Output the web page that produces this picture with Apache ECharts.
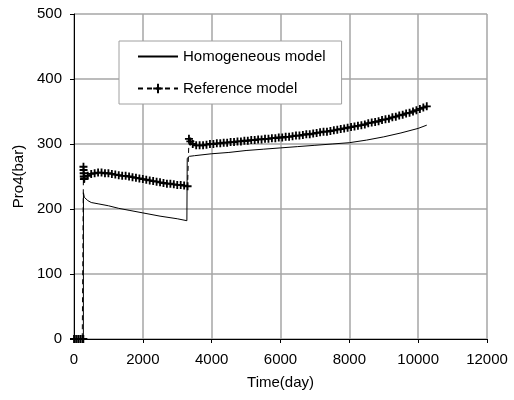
<!DOCTYPE html>
<html>
<head>
<meta charset="utf-8">
<script src="https://cdn.jsdelivr.net/npm/echarts@6/dist/echarts.min.js"></script>
<style>html,body{margin:0;padding:0;background:#fff;}#c{width:514px;height:400px;}</style>
</head>
<body>
<div id="c"></div>
<script>
var xTicks = [0, 2000, 4000, 6000, 8000, 10000, 12000];
var yTicks = [0, 100, 200, 300, 400, 500];

var homTime = [0, 100, 200, 272, 275, 300, 400, 500, 700, 1000, 1300, 1600, 2000, 2500, 3000, 3280, 3290, 3350, 3500, 4000, 4500, 5000, 5500, 6000, 6500, 7000, 7500, 8000, 8500, 9000, 9500, 10000, 10250];
var homVal  = [0, 0, 0, 0, 225, 218, 213, 210, 208, 205, 201, 198, 194, 189, 185, 182, 278, 281, 282, 285, 287, 290, 292, 294, 296, 298, 300, 302, 306, 311, 317, 324, 329];

var refTime = [0, 60, 120, 180, 240, 272, 275, 278, 281, 284, 288, 300, 400, 500, 600, 700, 800, 900, 1000, 1100, 1200, 1300, 1400, 1500, 1600, 1700, 1800, 1900, 2000, 2100, 2200, 2300, 2400, 2500, 2600, 2700, 2800, 2900, 3000, 3100, 3200, 3300,
  3340, 3380, 3450, 3550, 3650, 3750, 3850, 3950, 4050, 4150, 4250, 4350, 4450, 4550, 4650, 4750, 4850, 4950, 5050, 5150, 5250, 5350, 5450, 5550, 5650, 5750, 5850, 5950, 6050, 6150, 6250, 6350, 6450, 6550, 6650, 6750, 6850, 6950, 7050, 7150, 7250, 7350, 7450, 7550, 7650, 7750, 7850, 7950, 8050, 8150, 8250, 8350, 8450, 8550, 8650, 8750, 8850, 8950, 9050, 9150, 9250, 9350, 9450, 9550, 9650, 9750, 9850, 9950, 10050, 10150, 10250];
var refVal  = [0, 0, 0, 0, 0, 0, 265, 260, 255, 250, 246, 247, 251, 254, 255, 256, 256, 255, 255, 254, 253, 252, 251, 251, 250, 249, 248, 247, 246, 245, 244, 243, 242, 241, 240, 239, 239, 238, 237, 237, 236, 235,
  308, 304, 300, 298, 298, 298, 299, 300, 300, 301, 301, 302, 302, 303, 303, 304, 304, 305, 305, 306, 306, 307, 307, 308, 308, 309, 309, 310, 310, 311, 311, 312, 313, 313, 314, 315, 315, 316, 317, 318, 319, 319, 320, 321, 322, 323, 324, 325, 326, 327, 328, 329, 330, 332, 333, 334, 335, 337, 338, 339, 341, 342, 344, 345, 347, 348, 350, 352, 354, 356, 358];

function pairs(t, v) { return t.map(function (x, i) { return [x, v[i]]; }); }

var chart = echarts.init(document.getElementById('c'), null, { renderer: 'canvas' });
var font = 'Liberation Sans, Arial, sans-serif';
chart.setOption({
  animation: false,
  backgroundColor: '#fff',
  textStyle: { fontFamily: font },
  grid: { left: 74, right: 27, top: 14, bottom: 61, containLabel: false },
  legend: {
    orient: 'vertical',
    left: 119, top: 41,
    padding: [8, 16, 8, 18],
    itemGap: 17,
    itemWidth: 40, itemHeight: 12,
    backgroundColor: '#fff',
    borderColor: '#a0a0a0', borderWidth: 1,
    textStyle: { fontFamily: font, fontSize: 15, color: '#000' },
    data: [
      { name: 'Homogeneous model', itemStyle: { opacity: 0 } },
      { name: 'Reference model' }
    ]
  },
  xAxis: {
    type: 'value', min: 0, max: 12000, interval: 2000,
    name: 'Time(day)', nameLocation: 'middle', nameGap: 36,
    nameTextStyle: { fontFamily: font, fontSize: 15, color: '#000' },
    axisLine: { onZero: false, lineStyle: { color: '#000', width: 1 } },
    axisTick: { show: true, length: 4, lineStyle: { color: '#000' } },
    axisLabel: { fontFamily: font, fontSize: 15, color: '#000', margin: 13, formatter: function (v) { return String(v); } },
    splitLine: { show: true, lineStyle: { color: '#a6a6a6', width: 1.5 } }
  },
  yAxis: {
    type: 'value', min: 0, max: 500, interval: 100,
    name: 'Pro4(bar)', nameLocation: 'middle', nameGap: 47, nameRotate: 90,
    nameTextStyle: { fontFamily: font, fontSize: 15, color: '#000' },
    axisLine: { show: true, lineStyle: { color: '#000', width: 1 } },
    axisTick: { show: true, length: 4, lineStyle: { color: '#000' } },
    axisLabel: { fontFamily: font, fontSize: 15, color: '#000', margin: 12, formatter: function (v) { return String(v); } },
    splitLine: { show: true, lineStyle: { color: '#a6a6a6', width: 1.5 } }
  },
  series: [
    {
      name: 'Homogeneous model', type: 'line',
      data: pairs(homTime, homVal),
      showSymbol: false, symbol: 'none',
      lineStyle: { color: '#000', width: 1 },
      itemStyle: { color: '#000' }
    },
    {
      name: 'Reference model', type: 'line',
      data: pairs(refTime, refVal),
      symbol: 'path://M0,5L10,5M5,0L5,10', symbolSize: 8,
      showAllSymbol: true,
      lineStyle: { color: '#000', width: 1, type: [5, 4] },
      itemStyle: { color: 'none', borderColor: '#000', borderWidth: 1.8 }
    }
  ]
});
</script>
</body>
</html>
